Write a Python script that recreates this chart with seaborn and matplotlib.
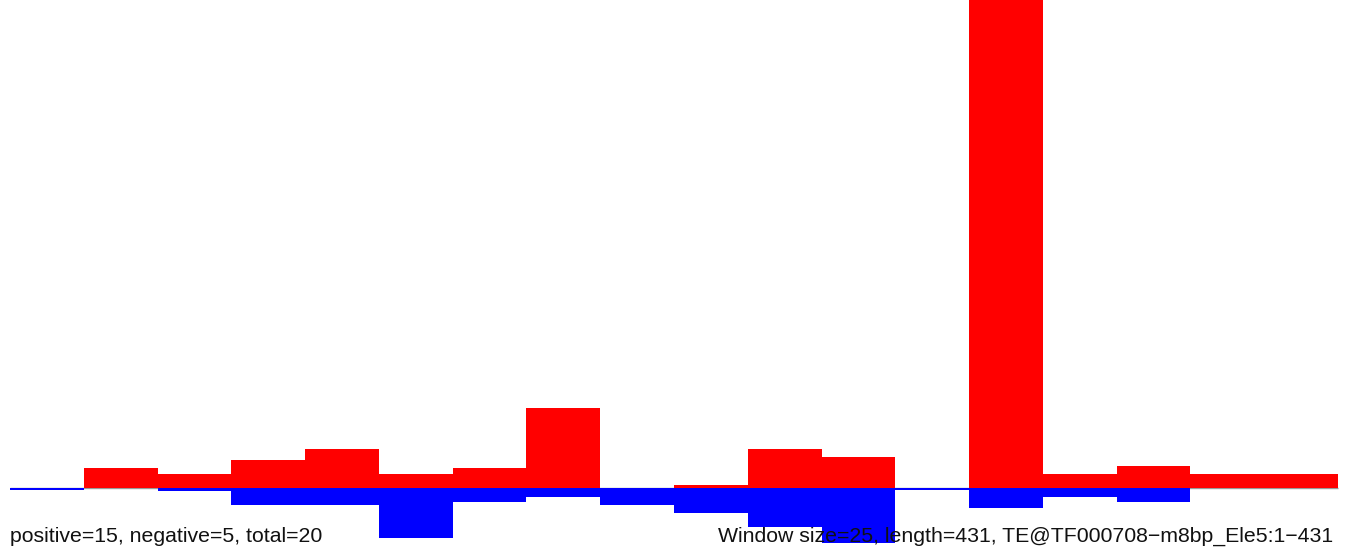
import numpy as np
import seaborn as sns
import matplotlib
matplotlib.use("Agg")
import matplotlib.pyplot as plt

# window index along the element (window size 25)
windows = list(range(18))
# positive-strand score per window
positive = [0, 1.4, 1.0, 2.0, 2.8, 1.0, 1.4, 5.7, 0, 0.2, 2.8, 2.2, 0, 40.0, 1.0, 1.6, 1.0, 1.0]
# negative-strand score per window (plotted downwards)
negative = [0.15, 0, 0.2, 1.2, 1.2, 3.6, 1.0, 0.65, 1.2, 1.8, 2.8, 3.9, 0.15, 1.4, 0.65, 1.0, 0, 0]

left_label = "positive=15, negative=5, total=20"
right_label = "Window size=25, length=431, TE@TF000708\u2212m8bp_Ele5:1\u2212431"

sns.set_style("white")
plt.rcParams["font.family"] = ["Liberation Sans", "DejaVu Sans"]

fig = plt.figure(figsize=(13.5, 5.55), dpi=100)
ax = fig.add_axes([0, 0, 1, 1])

ax.hlines(0, -0.5, 17.5, color="#999999", lw=1, zorder=1)
sns.barplot(x=windows, y=positive, color="red", saturation=1, width=1,
            linewidth=0, errorbar=None, ax=ax, zorder=2)
sns.barplot(x=windows, y=[-v for v in negative], color="blue", saturation=1, width=1,
            linewidth=0, errorbar=None, ax=ax, zorder=2)

ppu = 1328 / 18
ax.set_xlim(-0.5 - 10 / ppu, 17.5 + 12 / ppu)
ax.set_ylim(-67 / 14, 488 / 14)
ax.axis("off")

fig.text(10 / 1350, 1 - 542 / 555, left_label, ha="left", va="baseline",
         fontsize=15.3, color="#111111", zorder=5)
fig.text(1333 / 1350, 1 - 542 / 555, right_label, ha="right", va="baseline",
         fontsize=15.3, color="#111111", zorder=5)

fig.savefig("out.png", dpi=100)
